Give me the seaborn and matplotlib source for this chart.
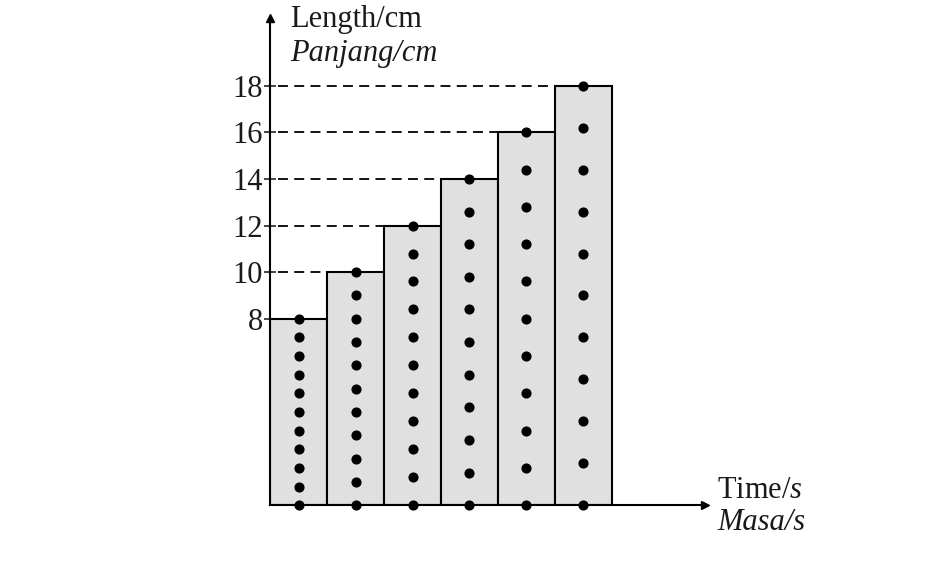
import numpy as np
import pandas as pd
import matplotlib
matplotlib.use("Agg")
import matplotlib.pyplot as plt
import seaborn as sns

# ticker tape strips: length of each strip in cm
strips = ["1", "2", "3", "4", "5", "6"]
lengths = [8, 10, 12, 14, 16, 18]
y_ticks = [8, 10, 12, 14, 16, 18]
dots_per_strip = 11  # each strip = 10 ticks

sns.set_style("white")
plt.rcParams["font.family"] = ["Liberation Serif", "DejaVu Serif"]
plt.rcParams["mathtext.fontset"] = "custom"
plt.rcParams["mathtext.rm"] = "Liberation Serif"
plt.rcParams["mathtext.it"] = "Liberation Serif:italic"

df = pd.DataFrame({"strip": strips, "length": lengths})

fig = plt.figure(figsize=(9.41, 5.67), dpi=100)
ax = fig.add_axes([0.287, 0.109, 0.462, 0.859])

sns.barplot(data=df, x="strip", y="length", color="#e0e0e0", saturation=1,
            width=1, edgecolor="black", linewidth=1.5, ax=ax)

# dashed guide lines from y axis to top-left of each strip
for i, L in enumerate(lengths):
    if i > 0:
        ax.hlines(L, -0.36, i - 0.5, colors="black", lw=1.3,
                  linestyles=(0, (5.5, 3.5)), zorder=1)

# ticker dots
dots = pd.DataFrame({
    "x": np.repeat(np.arange(len(strips)), dots_per_strip),
    "y": np.concatenate([np.linspace(0, L, dots_per_strip) for L in lengths]),
})
ax.plot(dots["x"], dots["y"], "o", color="black", ms=6.3, clip_on=False, zorder=5)

ax.set_xlim(-0.5, 7.13)
ax.set_ylim(0, 20.9)
ax.set_xticks([])
ax.set_yticks(y_ticks)
ax.set_yticklabels([str(t) for t in y_ticks], fontsize=22)
ax.tick_params(axis="y", direction="inout", length=8, width=1.2, pad=1, left=True,
               labelcolor="#1a1a1a")
ax.set_xlabel("")
ax.set_ylabel("")

for s in ["top", "right"]:
    ax.spines[s].set_visible(False)
for s in ["left", "bottom"]:
    ax.spines[s].set_color("black")
    ax.spines[s].set_linewidth(1.5)

# axis arrows
ax.plot(1, 0, ">", color="black", ms=6, transform=ax.transAxes, clip_on=False)
ax.plot(0, 1, "^", color="black", ms=6, transform=ax.transAxes, clip_on=False)

txt = dict(fontsize=22, va="center", ha="left", color="#1a1a1a")
fig.text(290 / 941, 1 - 20 / 567, "Length/cm", **txt)
fig.text(290 / 941, 1 - 53 / 567, "Panjang/cm", style="italic", **txt)
fig.text(717 / 941, 1 - 490 / 567, r"Time/$\mathit{s}$", **txt)
fig.text(717 / 941, 1 - 523 / 567, "Masa/s", style="italic", **txt)

fig.savefig("out.png", dpi=100, facecolor="white")
